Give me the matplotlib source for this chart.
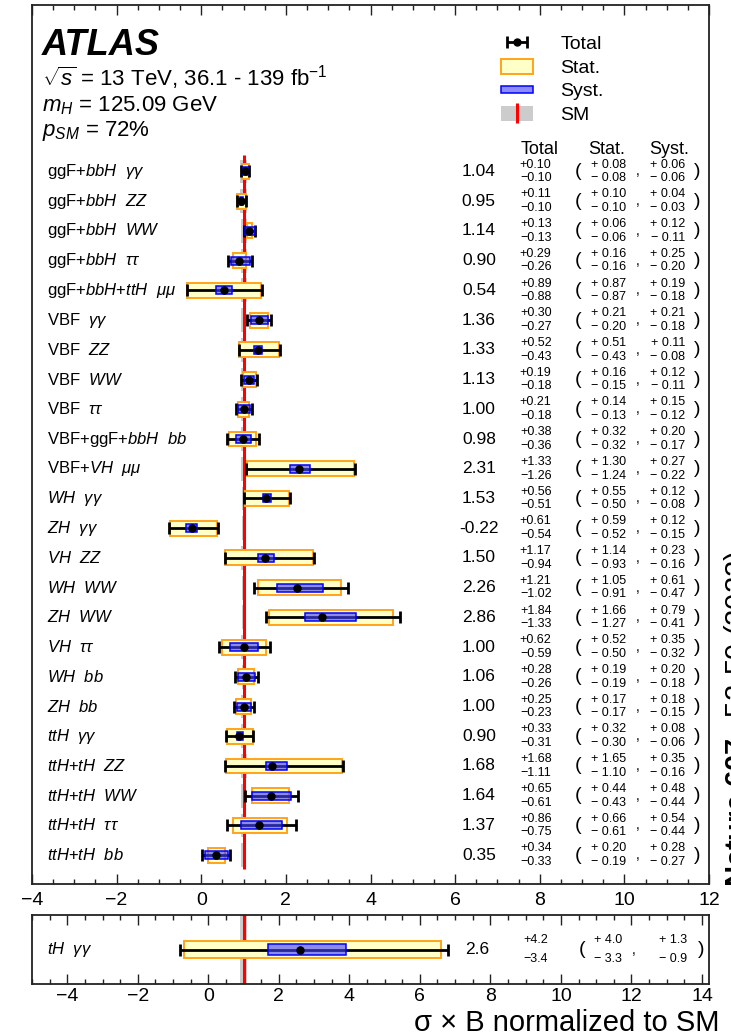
import numpy as np
import matplotlib.pyplot as plt
import matplotlib.patches as mpatches
from matplotlib.lines import Line2D
from matplotlib.ticker import MultipleLocator
from matplotlib.legend_handler import HandlerPatch, HandlerTuple

plt.rcParams['font.family'] = ['Liberation Sans', 'DejaVu Sans']
plt.rcParams['mathtext.fontset'] = 'custom'
plt.rcParams['mathtext.rm'] = 'Liberation Sans'
plt.rcParams['mathtext.it'] = 'Liberation Sans:italic'
plt.rcParams['mathtext.bf'] = 'Liberation Sans:bold'

# production mode x decay channel, top to bottom
labels = [
    r"ggF+$bbH$  $\gamma\gamma$",
    r"ggF+$bbH$  $ZZ$",
    r"ggF+$bbH$  $WW$",
    r"ggF+$bbH$  $\tau\tau$",
    r"ggF+$bbH$+$ttH$  $\mu\mu$",
    r"VBF  $\gamma\gamma$",
    r"VBF  $ZZ$",
    r"VBF  $WW$",
    r"VBF  $\tau\tau$",
    r"VBF+ggF+$bbH$  $bb$",
    r"VBF+$VH$  $\mu\mu$",
    r"$WH$  $\gamma\gamma$",
    r"$ZH$  $\gamma\gamma$",
    r"$VH$  $ZZ$",
    r"$WH$  $WW$",
    r"$ZH$  $WW$",
    r"$VH$  $\tau\tau$",
    r"$WH$  $bb$",
    r"$ZH$  $bb$",
    r"$ttH$  $\gamma\gamma$",
    r"$ttH$+$tH$  $ZZ$",
    r"$ttH$+$tH$  $WW$",
    r"$ttH$+$tH$  $\tau\tau$",
    r"$ttH$+$tH$  $bb$",
]
mu = np.array([1.04, 0.95, 1.14, 0.90, 0.54, 1.36, 1.33, 1.13, 1.00, 0.98, 2.31, 1.53,
               -0.22, 1.50, 2.26, 2.86, 1.00, 1.06, 1.00, 0.90, 1.68, 1.64, 1.37, 0.35])
tot_up = np.array([0.10, 0.11, 0.13, 0.29, 0.89, 0.30, 0.52, 0.19, 0.21, 0.38, 1.33, 0.56,
                   0.61, 1.17, 1.21, 1.84, 0.62, 0.28, 0.25, 0.33, 1.68, 0.65, 0.86, 0.34])
tot_dn = np.array([0.10, 0.10, 0.13, 0.26, 0.88, 0.27, 0.43, 0.18, 0.18, 0.36, 1.26, 0.51,
                   0.54, 0.94, 1.02, 1.33, 0.59, 0.26, 0.23, 0.31, 1.11, 0.61, 0.75, 0.33])
stat_up = np.array([0.08, 0.10, 0.06, 0.16, 0.87, 0.21, 0.51, 0.16, 0.14, 0.32, 1.30, 0.55,
                    0.59, 1.14, 1.05, 1.66, 0.52, 0.19, 0.17, 0.32, 1.65, 0.44, 0.66, 0.20])
stat_dn = np.array([0.08, 0.10, 0.06, 0.16, 0.87, 0.20, 0.43, 0.15, 0.13, 0.32, 1.24, 0.50,
                    0.52, 0.93, 0.91, 1.27, 0.50, 0.19, 0.17, 0.30, 1.10, 0.43, 0.61, 0.19])
syst_up = np.array([0.06, 0.04, 0.12, 0.25, 0.19, 0.21, 0.11, 0.12, 0.15, 0.20, 0.27, 0.12,
                    0.12, 0.23, 0.61, 0.79, 0.35, 0.20, 0.18, 0.08, 0.35, 0.48, 0.54, 0.28])
syst_dn = np.array([0.06, 0.03, 0.11, 0.20, 0.18, 0.18, 0.08, 0.11, 0.12, 0.17, 0.22, 0.08,
                    0.15, 0.16, 0.47, 0.41, 0.32, 0.18, 0.15, 0.06, 0.16, 0.44, 0.44, 0.27])
# theory uncertainty band on the SM prediction (half width)
sm_unc = np.array([0.08, 0.08, 0.07, 0.07, 0.07, 0.05, 0.05, 0.05, 0.05, 0.06, 0.05, 0.04,
                   0.04, 0.05, 0.04, 0.04, 0.05, 0.04, 0.05, 0.06, 0.07, 0.06, 0.06, 0.06])

# separate tH gamma gamma panel
th_label = r"$tH$  $\gamma\gamma$"
th_mu = 2.6
th_tot = (3.4, 4.2)
th_stat = (3.3, 4.0)
th_syst = (0.9, 1.3)
th_sm_unc = 0.1

W, H = 731, 1036
fig = plt.figure(figsize=(W / 100, H / 100), dpi=100)
ax = fig.add_axes([32 / W, 1 - 884 / H, 677 / W, 879 / H])
ax2 = fig.add_axes([32 / W, 1 - 984 / H, 677 / W, 69 / H])

yellow, orange = '#ffffc8', '#ffa31a'
blue_fill, blue_edge = (0.25, 0.25, 1.0, 0.6), '#0000ff'

n = len(mu)
y = np.arange(n)[::-1]

ax.barh(y, 2 * sm_unc, left=1 - sm_unc, height=0.8, color='#cccccc', lw=0, zorder=1)
ax.vlines(1, -0.45, n - 0.45, color='red', lw=2.2, zorder=2)
ax.barh(y, stat_up + stat_dn, left=mu - stat_dn, height=0.5,
        facecolor=yellow, edgecolor=orange, lw=1.4, zorder=3)
eb = ax.errorbar(mu, y, xerr=[tot_dn, tot_up], fmt='o', color='black', ms=5,
                 elinewidth=2, capsize=4.5, capthick=2, zorder=4)
ax.barh(y, syst_up + syst_dn, left=mu - syst_dn, height=0.27,
        facecolor=blue_fill, edgecolor=blue_edge, lw=1.1, zorder=5)
ax.plot(mu, y, 'o', color='black', ms=5, zorder=6)

ax.set_xlim(-4, 12)
ax.set_ylim(-0.97, 28.6)

# text columns (x in axes fraction, y in data)
tr = ax.get_yaxis_transform()
c_lab, c_mu, c_tot, c_po, c_stat, c_cm, c_syst, c_pc = 0.022, 0.660, 0.744, 0.806, 0.851, 0.894, 0.939, 0.982
dy = 0.23
efs = 9
for i in range(n):
    yi = y[i]
    ax.text(c_lab, yi, labels[i], transform=tr, fontsize=12, va='center', ha='left')
    ax.text(c_mu, yi, f"{mu[i]:.2f}", transform=tr, fontsize=12.5, va='center', ha='center')
    ax.text(c_tot, yi + dy, f"+{tot_up[i]:.2f}", transform=tr, fontsize=efs, va='center', ha='center')
    ax.text(c_tot, yi - dy, f"\u2212{tot_dn[i]:.2f}", transform=tr, fontsize=efs, va='center', ha='center')
    ax.text(c_po, yi, "(", transform=tr, fontsize=14, va='center', ha='center')
    ax.text(c_stat, yi + dy, f"+ {stat_up[i]:.2f}", transform=tr, fontsize=efs, va='center', ha='center')
    ax.text(c_stat, yi - dy, f"\u2212 {stat_dn[i]:.2f}", transform=tr, fontsize=efs, va='center', ha='center')
    ax.text(c_cm, yi, ",", transform=tr, fontsize=10, va='center', ha='center')
    ax.text(c_syst, yi + dy, f"+ {syst_up[i]:.2f}", transform=tr, fontsize=efs, va='center', ha='center')
    ax.text(c_syst, yi - dy, f"\u2212 {syst_dn[i]:.2f}", transform=tr, fontsize=efs, va='center', ha='center')
    ax.text(c_pc, yi, ")", transform=tr, fontsize=14, va='center', ha='center')

ax.text(0.750, 23.75, "Total", transform=tr, fontsize=13, va='center', ha='center')
ax.text(0.849, 23.75, "Stat.", transform=tr, fontsize=13, va='center', ha='center')
ax.text(0.941, 23.75, "Syst.", transform=tr, fontsize=13, va='center', ha='center')

# header
fig.text(42 / W, 1 - 55 / H, "ATLAS", fontsize=26, fontweight='bold', fontstyle='italic', va='baseline')
fig.text(42 / W, 1 - 86 / H, r"$\sqrt{s}$ = 13 TeV, 36.1 - 139 fb$^{-1}$", fontsize=16, va='baseline')
fig.text(42 / W, 1 - 111 / H, r"$m_{H}$ = 125.09 GeV", fontsize=16, va='baseline')
fig.text(42 / W, 1 - 136 / H, r"$p_{SM}$ = 72%", fontsize=16, va='baseline')

# legend
def thin_rect(legend, orig_handle, xdescent, ydescent, width, height, fontsize):
    return mpatches.Rectangle((-xdescent, -ydescent + 0.25 * height), width, 0.5 * height)

h_stat = mpatches.Patch(facecolor=yellow, edgecolor=orange, lw=1.4)
h_syst = mpatches.Patch(facecolor=blue_fill, edgecolor=blue_edge, lw=1.1)
h_sm = (mpatches.Patch(facecolor='#cccccc', edgecolor='none'),
        Line2D([], [], color='red', marker='|', ls='none', ms=14, mew=2.2))
ax.legend([eb, h_stat, h_syst, h_sm], ["Total", "Stat.", "Syst.", "SM"],
          loc='upper left', bbox_to_anchor=((501 - 32) / 677, 1 - 30 / 879),
          frameon=False, fontsize=14, handlelength=1.65, handleheight=0.8,
          handletextpad=1.4, labelspacing=0.28, borderpad=0, borderaxespad=0,
          handler_map={h_syst: HandlerPatch(patch_func=thin_rect),
                       tuple: HandlerTuple(ndivide=1)})

# bottom panel: tH gamma gamma
ax2.axvspan(1 - th_sm_unc, 1 + th_sm_unc, color='#cccccc', lw=0, zorder=1)
ax2.axvline(1, color='red', lw=2.2, zorder=2)
ax2.barh([0], [th_stat[0] + th_stat[1]], left=[th_mu - th_stat[0]], height=0.52,
         facecolor=yellow, edgecolor=orange, lw=1.4, zorder=3)
ax2.errorbar([th_mu], [0], xerr=[[th_tot[0]], [th_tot[1]]], fmt='o', color='black', ms=5,
             elinewidth=2, capsize=4.5, capthick=2, zorder=4)
ax2.barh([0], [th_syst[0] + th_syst[1]], left=[th_mu - th_syst[0]], height=0.3,
         facecolor=blue_fill, edgecolor=blue_edge, lw=1.1, zorder=5)
ax2.plot([th_mu], [0], 'o', color='black', ms=5, zorder=6)
ax2.set_xlim(-5, 14.2)
ax2.set_ylim(-1, 1)

tr2 = ax2.get_yaxis_transform()
ax2.text(c_lab, 0, th_label, transform=tr2, fontsize=12, va='center', ha='left')
ax2.text(0.657, 0, f"{th_mu:.1f}", transform=tr2, fontsize=12.5, va='center', ha='center')
ax2.text(c_tot, 0.27, f"+{th_tot[1]:.1f}", transform=tr2, fontsize=efs, va='center', ha='center')
ax2.text(c_tot, -0.27, f"\u2212{th_tot[0]:.1f}", transform=tr2, fontsize=efs, va='center', ha='center')
ax2.text(0.813, 0, "(", transform=tr2, fontsize=14, va='center', ha='center')
ax2.text(0.851, 0.27, f"+ {th_stat[1]:.1f}", transform=tr2, fontsize=efs, va='center', ha='center')
ax2.text(0.851, -0.27, f"\u2212 {th_stat[0]:.1f}", transform=tr2, fontsize=efs, va='center', ha='center')
ax2.text(0.888, 0, ",", transform=tr2, fontsize=10, va='center', ha='center')
ax2.text(0.947, 0.27, f"+ {th_syst[1]:.1f}", transform=tr2, fontsize=efs, va='center', ha='center')
ax2.text(0.947, -0.27, f"\u2212 {th_syst[0]:.1f}", transform=tr2, fontsize=efs, va='center', ha='center')
ax2.text(0.989, 0, ")", transform=tr2, fontsize=14, va='center', ha='center')

for a, lo, hi, pad in ((ax, -4, 12, 6), (ax2, -4, 14, 3)):
    a.set_xticks(np.arange(lo, hi + 1, 2))
    a.xaxis.set_minor_locator(MultipleLocator(0.5))
    a.tick_params(axis='x', which='both', direction='in', top=True, bottom=True,
                  labelsize=14, pad=pad, color='#222222')
    a.tick_params(axis='x', which='major', length=7, width=1)
    a.tick_params(axis='x', which='minor', length=3.5, width=1)
    a.set_yticks([])
    for s in a.spines.values():
        s.set_linewidth(1.3)
        s.set_color('#222222')

fig.text(720 / W, 1 - 1031 / H, r"σ × B normalized to SM", fontsize=21, ha='right', va='baseline')
fig.text(722 / W, 1 - 887 / H, r"$\mathbf{Nature\ 607,}$ 52-59 (2022)", fontsize=21,
         rotation=90, ha='left', va='bottom')

fig.savefig("out.png", dpi=100)
